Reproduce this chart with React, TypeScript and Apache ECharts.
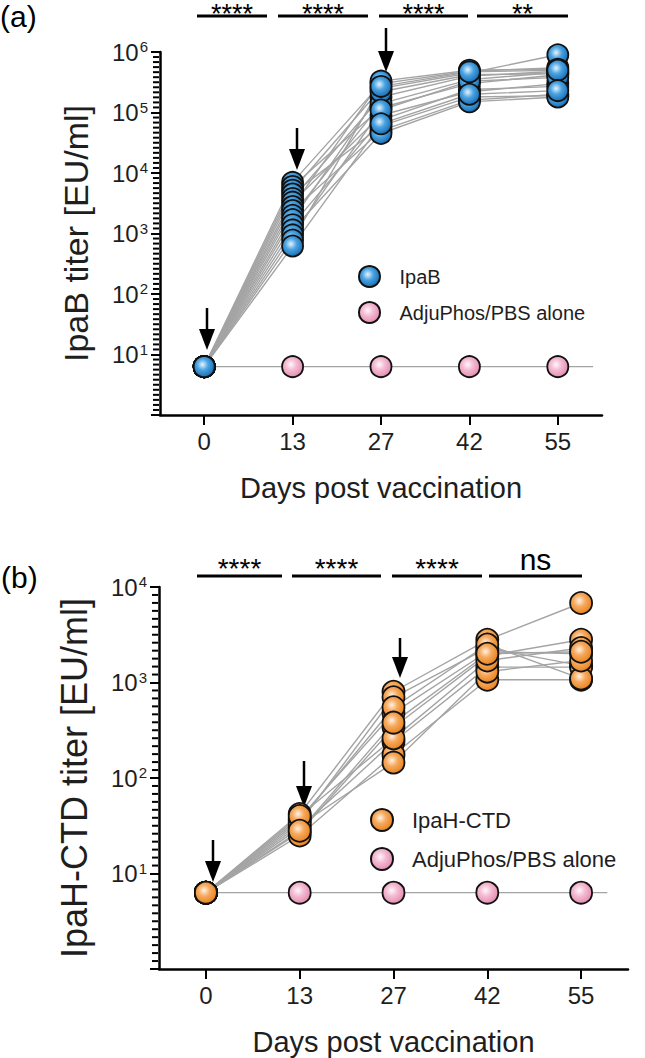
import React, { useEffect, useRef } from 'react';
import * as echarts from 'echarts';

// ---------------- data ----------------
const days = ['0', '13', '27', '42', '55'];
const dayIdx = [0, 1, 2, 3, 4];

// Panel (a) IpaB, per mouse (same index = same mouse)
const ipabD0 = [6.3, 6.3, 6.3, 6.3, 6.3, 6.3, 6.3, 6.3, 6.3, 6.3, 6.3, 6.3, 6.3, 6.3, 6.3];
const ipabD13 = [7000, 6000, 5200, 4500, 3800, 3300, 2800, 2400, 2000, 1700, 1400, 1150, 950, 780, 620];
const ipabD27 = [300000, 120000, 250000, 60000, 180000, 90000, 330000, 50000, 140000, 220000, 75000, 45000, 110000, 270000, 65000];
const ipabD42 = [480000, 300000, 450000, 180000, 400000, 220000, 500000, 160000, 350000, 420000, 240000, 150000, 330000, 470000, 200000];
const ipabD55 = [550000, 420000, 900000, 190000, 480000, 300000, 520000, 200000, 460000, 440000, 270000, 180000, 380000, 500000, 230000];

// Panel (b) IpaH-CTD, per mouse
const ipahD0 = [6.3, 6.3, 6.3, 6.3, 6.3, 6.3, 6.3, 6.3, 6.3, 6.3];
const ipahD13 = [42, 38, 34, 30, 27, 25, 36, 32, 40, 28];
const ipahD27 = [800, 480, 700, 240, 340, 175, 550, 145, 260, 380];
const ipahD42 = [2800, 2100, 2300, 1450, 1900, 1070, 2500, 1300, 1700, 2000];
const ipahD55 = [6800, 2000, 1500, 1450, 2800, 1070, 1100, 1700, 2300, 2100];

// AdjuPhos/PBS alone controls
const pbsA = [6.3, 6.3, 6.3, 6.3, 6.3];
const pbsB = [6.3, 6.3, 6.3, 6.3, 6.3];
const pbsLineEndA = 4.4;
const pbsLineEndB = 4.28;

const sigA = ['****', '****', '****', '**'];
const sigB = ['****', '****', '****', 'ns'];
const yTicksA = [1, 10, 100, 1000, 10000, 100000, 1000000];
const yTicksB = [1, 10, 100, 1000, 10000];
const minorPerDecade = 12; // evenly spaced minor ticks per decade on the y axes

// ---------------- styles ----------------
const FONT = 'Liberation Sans, Arial, Helvetica, sans-serif';
const GREY = '#a4a4a4';
const TXT = '#1e1e1e';

function radial(c0: string, c1: string, c2: string) {
  return new echarts.graphic.RadialGradient(0.42, 0.4, 0.6, [
    { offset: 0, color: c0 },
    { offset: 0.45, color: c1 },
    { offset: 1, color: c2 },
  ]);
}

function minorTickValues(decades: number) {
  const out: number[] = [];
  for (let k = 1; k < decades * minorPerDecade; k++) {
    if (k % minorPerDecade !== 0) out.push(Math.pow(10, k / minorPerDecade));
  }
  return out;
}

function buildPanel(
  g: number,
  groups: number[][],
  pbs: number[],
  pbsEnd: number,
  name: string,
  fill: any,
  size: number,
  decades: number
) {
  const nMice = groups[0].length;
  const series: any[] = [];
  for (let i = 0; i < nMice; i++) {
    series.push({
      type: 'line',
      xAxisIndex: g,
      yAxisIndex: g,
      data: dayIdx.map((d) => [d, groups[d][i]]),
      symbol: 'none',
      lineStyle: { color: GREY, width: 1.4 },
      z: 2,
      silent: true,
    });
  }
  series.push({
    type: 'line',
    xAxisIndex: g,
    yAxisIndex: g,
    data: dayIdx.map((d) => [d, pbs[d]]).concat([[pbsEnd, pbs[pbs.length - 1]]]),
    symbol: 'none',
    lineStyle: { color: GREY, width: 1.4 },
    z: 2,
    silent: true,
  });
  series.push({
    type: 'scatter',
    name: 'AdjuPhos/PBS alone',
    xAxisIndex: g,
    yAxisIndex: g,
    data: dayIdx.map((d) => [d, pbs[d]]),
    symbol: 'circle',
    symbolSize: size,
    itemStyle: { color: radial('#fff6fa', '#f3bad2', '#e58db1'), borderColor: '#111', borderWidth: 1.8, opacity: 1 },
    z: 3,
    silent: true,
  });
  const pts: number[][] = [];
  dayIdx.forEach((d) => {
    for (let i = 0; i < nMice; i++) pts.push([d, groups[d][i]]);
  });
  series.push({
    type: 'scatter',
    name,
    xAxisIndex: g,
    yAxisIndex: g,
    data: pts,
    symbol: 'circle',
    symbolSize: size,
    itemStyle: { color: fill, borderColor: '#111', borderWidth: 1.8, opacity: 1 },
    z: 4,
    silent: true,
  });
  // dense minor ticks along the left axis, placed through the log scale
  series.push({
    type: 'scatter',
    xAxisIndex: g,
    yAxisIndex: g,
    data: minorTickValues(decades).map((v) => [-0.5, v]),
    symbol: 'rect',
    symbolSize: [6, 2],
    symbolOffset: [-4, 0],
    itemStyle: { color: '#000', opacity: 1 },
    clip: false,
    z: 5,
    silent: true,
  });
  return series;
}

function logAxis(g: number, max: number, ticks: number[], title: string, titleSize: number) {
  return {
    type: 'log',
    logBase: 10,
    gridIndex: g,
    position: 'left',
    min: 1,
    max,
    splitNumber: ticks.length - 1,
    axisLine: { show: true, onZero: false, lineStyle: { color: '#000', width: 2.5 } },
    axisTick: { show: true, length: 9, lineStyle: { color: '#000', width: 2 } },
    splitLine: { show: false },
    axisLabel: {
      margin: 12,
      formatter: (v: number) => {
        const e = Math.round(Math.log10(v));
        return e === 0 ? '' : `{b|10}{s|${e}}`;
      },
      rich: {
        b: { fontSize: 24, color: TXT, fontFamily: FONT, lineHeight: 26 },
        s: { fontSize: 15, color: TXT, fontFamily: FONT, verticalAlign: 'top', padding: [0, 0, 0, 1] },
      },
    },
    name: title,
    nameLocation: 'middle',
    nameGap: 67,
    nameTextStyle: { fontSize: titleSize, color: TXT, fontFamily: FONT },
  };
}

function xAxis(g: number) {
  return {
    type: 'value',
    gridIndex: g,
    min: -0.5,
    max: 4.5,
    axisLine: { show: true, onZero: false, lineStyle: { color: '#000', width: 2.5 } },
    axisTick: { show: true, customValues: dayIdx, length: 10, lineStyle: { color: '#000', width: 2 } },
    axisLabel: {
      customValues: dayIdx,
      formatter: (v: number) => days[Math.round(v)],
      fontSize: 24,
      color: TXT,
      fontFamily: FONT,
      margin: 14,
    },
    splitLine: { show: false },
    name: 'Days post vaccination',
    nameLocation: 'middle',
    nameGap: 58,
    nameTextStyle: { fontSize: 29, color: TXT, fontFamily: FONT },
  };
}

function arrow(x: number, tip: number, len: number) {
  return {
    type: 'group',
    children: [
      { type: 'line', shape: { x1: x, y1: tip - len, x2: x, y2: tip - 16 }, style: { stroke: '#000', lineWidth: 2.5 } },
      { type: 'polygon', shape: { points: [[x - 8, tip - 21], [x + 8, tip - 21], [x, tip]] }, style: { fill: '#000' } },
    ],
  };
}

function sigBar(x1: number, x2: number, y: number, label: string, textY: number, fs: number) {
  return [
    { type: 'line', shape: { x1, y1: y, x2, y2: y }, style: { stroke: '#000', lineWidth: 3 } },
    {
      type: 'text',
      x: (x1 + x2) / 2,
      y: textY,
      style: { text: label, fontSize: fs, fontFamily: FONT, fill: '#000', align: 'center', verticalAlign: 'middle' },
    },
  ];
}

export default function App() {
  const ref = useRef<HTMLDivElement>(null);
  useEffect(() => {
    if (!ref.current) return;
    const chart = echarts.init(ref.current, undefined, { renderer: 'svg' });

    const blue = radial('#e6f3fc', '#4aa3e2', '#1a6fb4');
    const orange = radial('#fff2e2', '#f6a95e', '#e8841f');

    const series = [
      ...buildPanel(0, [ipabD0, ipabD13, ipabD27, ipabD42, ipabD55], pbsA, pbsLineEndA, 'IpaB', blue, 21, yTicksA.length - 1),
      ...buildPanel(1, [ipahD0, ipahD13, ipahD27, ipahD42, ipahD55], pbsB, pbsLineEndB, 'IpaH-CTD', orange, 22, yTicksB.length - 1),
    ];

    const barsA = [[197, 267], [278, 368], [379, 468], [477, 568]];
    const barsB = [[197, 282], [292, 381], [392, 482], [489, 582]];
    const graphics: any[] = [];
    barsA.forEach((b, i) => graphics.push(...sigBar(b[0], b[1], 16, sigA[i], 13.5, 27)));
    barsB.forEach((b, i) => graphics.push(...sigBar(b[0], b[1], 576, sigB[i], sigB[i] === 'ns' ? 559 : 568, sigB[i] === 'ns' ? 30 : 28)));
    graphics.push(arrow(207, 350, 42), arrow(297, 170, 42), arrow(386, 72, 44));
    graphics.push(arrow(213, 882, 42), arrow(304, 807, 46), arrow(400, 678, 40));
    graphics.push({ type: 'text', x: 0, y: 16, style: { text: '(a)', fontSize: 30, fontFamily: FONT, fill: '#000', verticalAlign: 'middle' } });
    graphics.push({ type: 'text', x: 1, y: 577, style: { text: '(b)', fontSize: 30, fontFamily: FONT, fill: '#000', verticalAlign: 'middle' } });

    chart.setOption({
      animation: false,
      backgroundColor: '#fff',
      textStyle: { fontFamily: FONT },
      grid: [
        { left: 160, top: 52, width: 442, height: 363 },
        { left: 159, top: 587, width: 469, height: 382 },
      ],
      xAxis: [xAxis(0), xAxis(1)],
      yAxis: [
        logAxis(0, 1000000, yTicksA, 'IpaB titer [EU/ml]', 34),
        logAxis(1, 10000, yTicksB, 'IpaH-CTD titer [EU/ml]', 36),
      ],
      legend: [
        {
          data: ['IpaB', 'AdjuPhos/PBS alone'],
          orient: 'vertical',
          left: 353,
          top: 260,
          itemWidth: 50,
          itemHeight: 21,
          itemGap: 13,
          icon: 'circle',
          selectedMode: false,
          textStyle: { fontSize: 20, color: TXT, fontFamily: FONT },
        },
        {
          data: ['IpaH-CTD', 'AdjuPhos/PBS alone'],
          orient: 'vertical',
          left: 365,
          top: 803,
          itemWidth: 50,
          itemHeight: 22,
          itemGap: 15,
          icon: 'circle',
          selectedMode: false,
          textStyle: { fontSize: 22, color: TXT, fontFamily: FONT },
        },
      ],
      series,
      graphic: graphics,
    });
    return () => chart.dispose();
  }, []);
  return <div ref={ref} style={{ position: 'fixed', left: 0, top: 0, width: 645, height: 1058, background: '#fff' }} />;
}
